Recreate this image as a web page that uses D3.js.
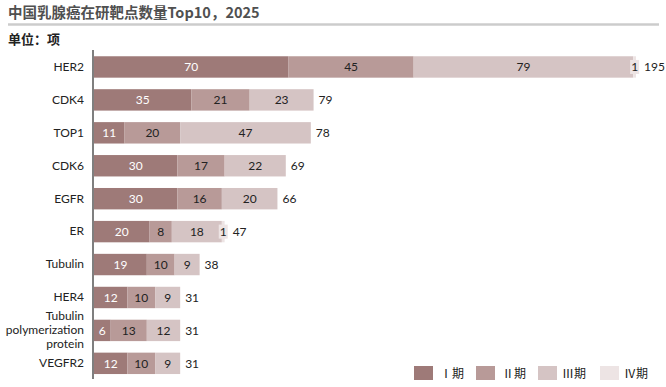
<!DOCTYPE html>
<html><head><meta charset="utf-8">
<script src="https://cdn.jsdelivr.net/npm/d3@7"></script>
<style>body{margin:0;background:#fff;} svg{display:block;font-family:"Noto Sans CJK SC","Liberation Sans",sans-serif;}</style>
</head><body><svg id="c" width="666" height="387"></svg>
<script>
const categories = ["HER2","CDK4","TOP1","CDK6","EGFR","ER","Tubulin","HER4","Tubulin polymerization protein","VEGFR2"];
const phase1 = [70,35,11,30,30,20,19,12,6,12];
const phase2 = [45,21,20,17,16,8,10,10,13,10];
const phase3 = [79,23,47,22,20,18,9,9,12,9];
const phase4 = [1,0,0,0,0,1,0,0,0,0];
const seriesNames = ["Ⅰ期","Ⅱ期","Ⅲ期","Ⅳ期"];
const colors = ["#9e7a78","#b89a98","#d5c4c4","#ede4e4"];
const labelColors = ["#ffffff","#222222","#222222","#222222"];
const title = "中国乳腺癌在研靶点数量Top10，2025";
const unit = "单位：项";

const svg = d3.select("#c");
const series = [phase1,phase2,phase3,phase4];
const rows = categories.map((c,i)=>({cat:c, vals:series.map(s=>s[i])}));
const numFont = "Lato, 'Open Sans', sans-serif";

svg.append("text").attr("x",8).attr("y",18).attr("font-size",14.5).attr("font-weight","bold").attr("fill","#505050").text(title);
svg.append("line").attr("x1",8).attr("x2",659).attr("y1",24.5).attr("y2",24.5).attr("stroke","#cccccc").attr("stroke-width",2.5);
svg.append("text").attr("x",8).attr("y",44).attr("font-size",13).attr("font-weight","bold").attr("fill","#222").text(unit);

const x = d3.scaleLinear().domain([0,195]).range([94,636]);
const y = d3.scaleBand().domain(categories).range([50.5,379.8]).paddingInner(0.35).paddingOuter(0.175);

const g = svg.append("g");
rows.forEach(r=>{
  let acc=0;
  const total = d3.sum(r.vals);
  r.vals.forEach((v,k)=>{
    if(!v){return;}
    const x0=x(acc), x1=x(acc+v);
    g.append("rect").attr("x",x0).attr("y",y(r.cat)).attr("width",x1-x0).attr("height",y.bandwidth()).attr("fill",colors[k]);
    const cy = y(r.cat)+y.bandwidth()/2;
    if(k===3){
      const tw=9;
      g.append("rect").attr("x",(x0+x1)/2-tw/2).attr("y",cy-7).attr("width",tw).attr("height",14).attr("fill",colors[3]);
    }
    g.append("text").attr("x",(x0+x1)/2).attr("y",cy).attr("dy","0.36em").attr("text-anchor","middle")
      .attr("font-size",12).attr("font-family",numFont).attr("fill",labelColors[k]).text(v);
    acc+=v;
  });
  g.append("text").attr("x",x(total)+(r.vals[3]?8:5)).attr("y",y(r.cat)+y.bandwidth()/2).attr("dy","0.36em")
    .attr("font-size",12).attr("font-family",numFont).attr("fill","#222").text(total);
});

// y axis
const ax = svg.append("g").attr("transform","translate(93,0)").call(d3.axisLeft(y).tickSize(0).tickPadding(9));
ax.select(".domain").attr("stroke","#555").attr("stroke-width",1.5).attr("d","M0,50V379");
ax.selectAll(".tick text").attr("font-size",12).attr("font-family",numFont).attr("fill","#222").each(function(d){
  if(d==="Tubulin polymerization protein"){
    const t=d3.select(this); t.text(null);
    ["Tubulin","polymerization","protein"].forEach((w,i)=>{
      t.append("tspan").attr("x",-9).attr("dy",i===0?"-0.9em":"1.2em").text(w);
    });
  }
});

// legend
const lx=[414,476,538,600];
seriesNames.forEach((n,k)=>{
  svg.append("rect").attr("x",lx[k]).attr("y",366).attr("width",19).attr("height",14).attr("fill",colors[k]);
  svg.append("text").attr("x",lx[k]+ (k<2?26:24)).attr("y",378).attr("font-size",12).attr("fill","#222").text(n);
});
</script></body></html>
